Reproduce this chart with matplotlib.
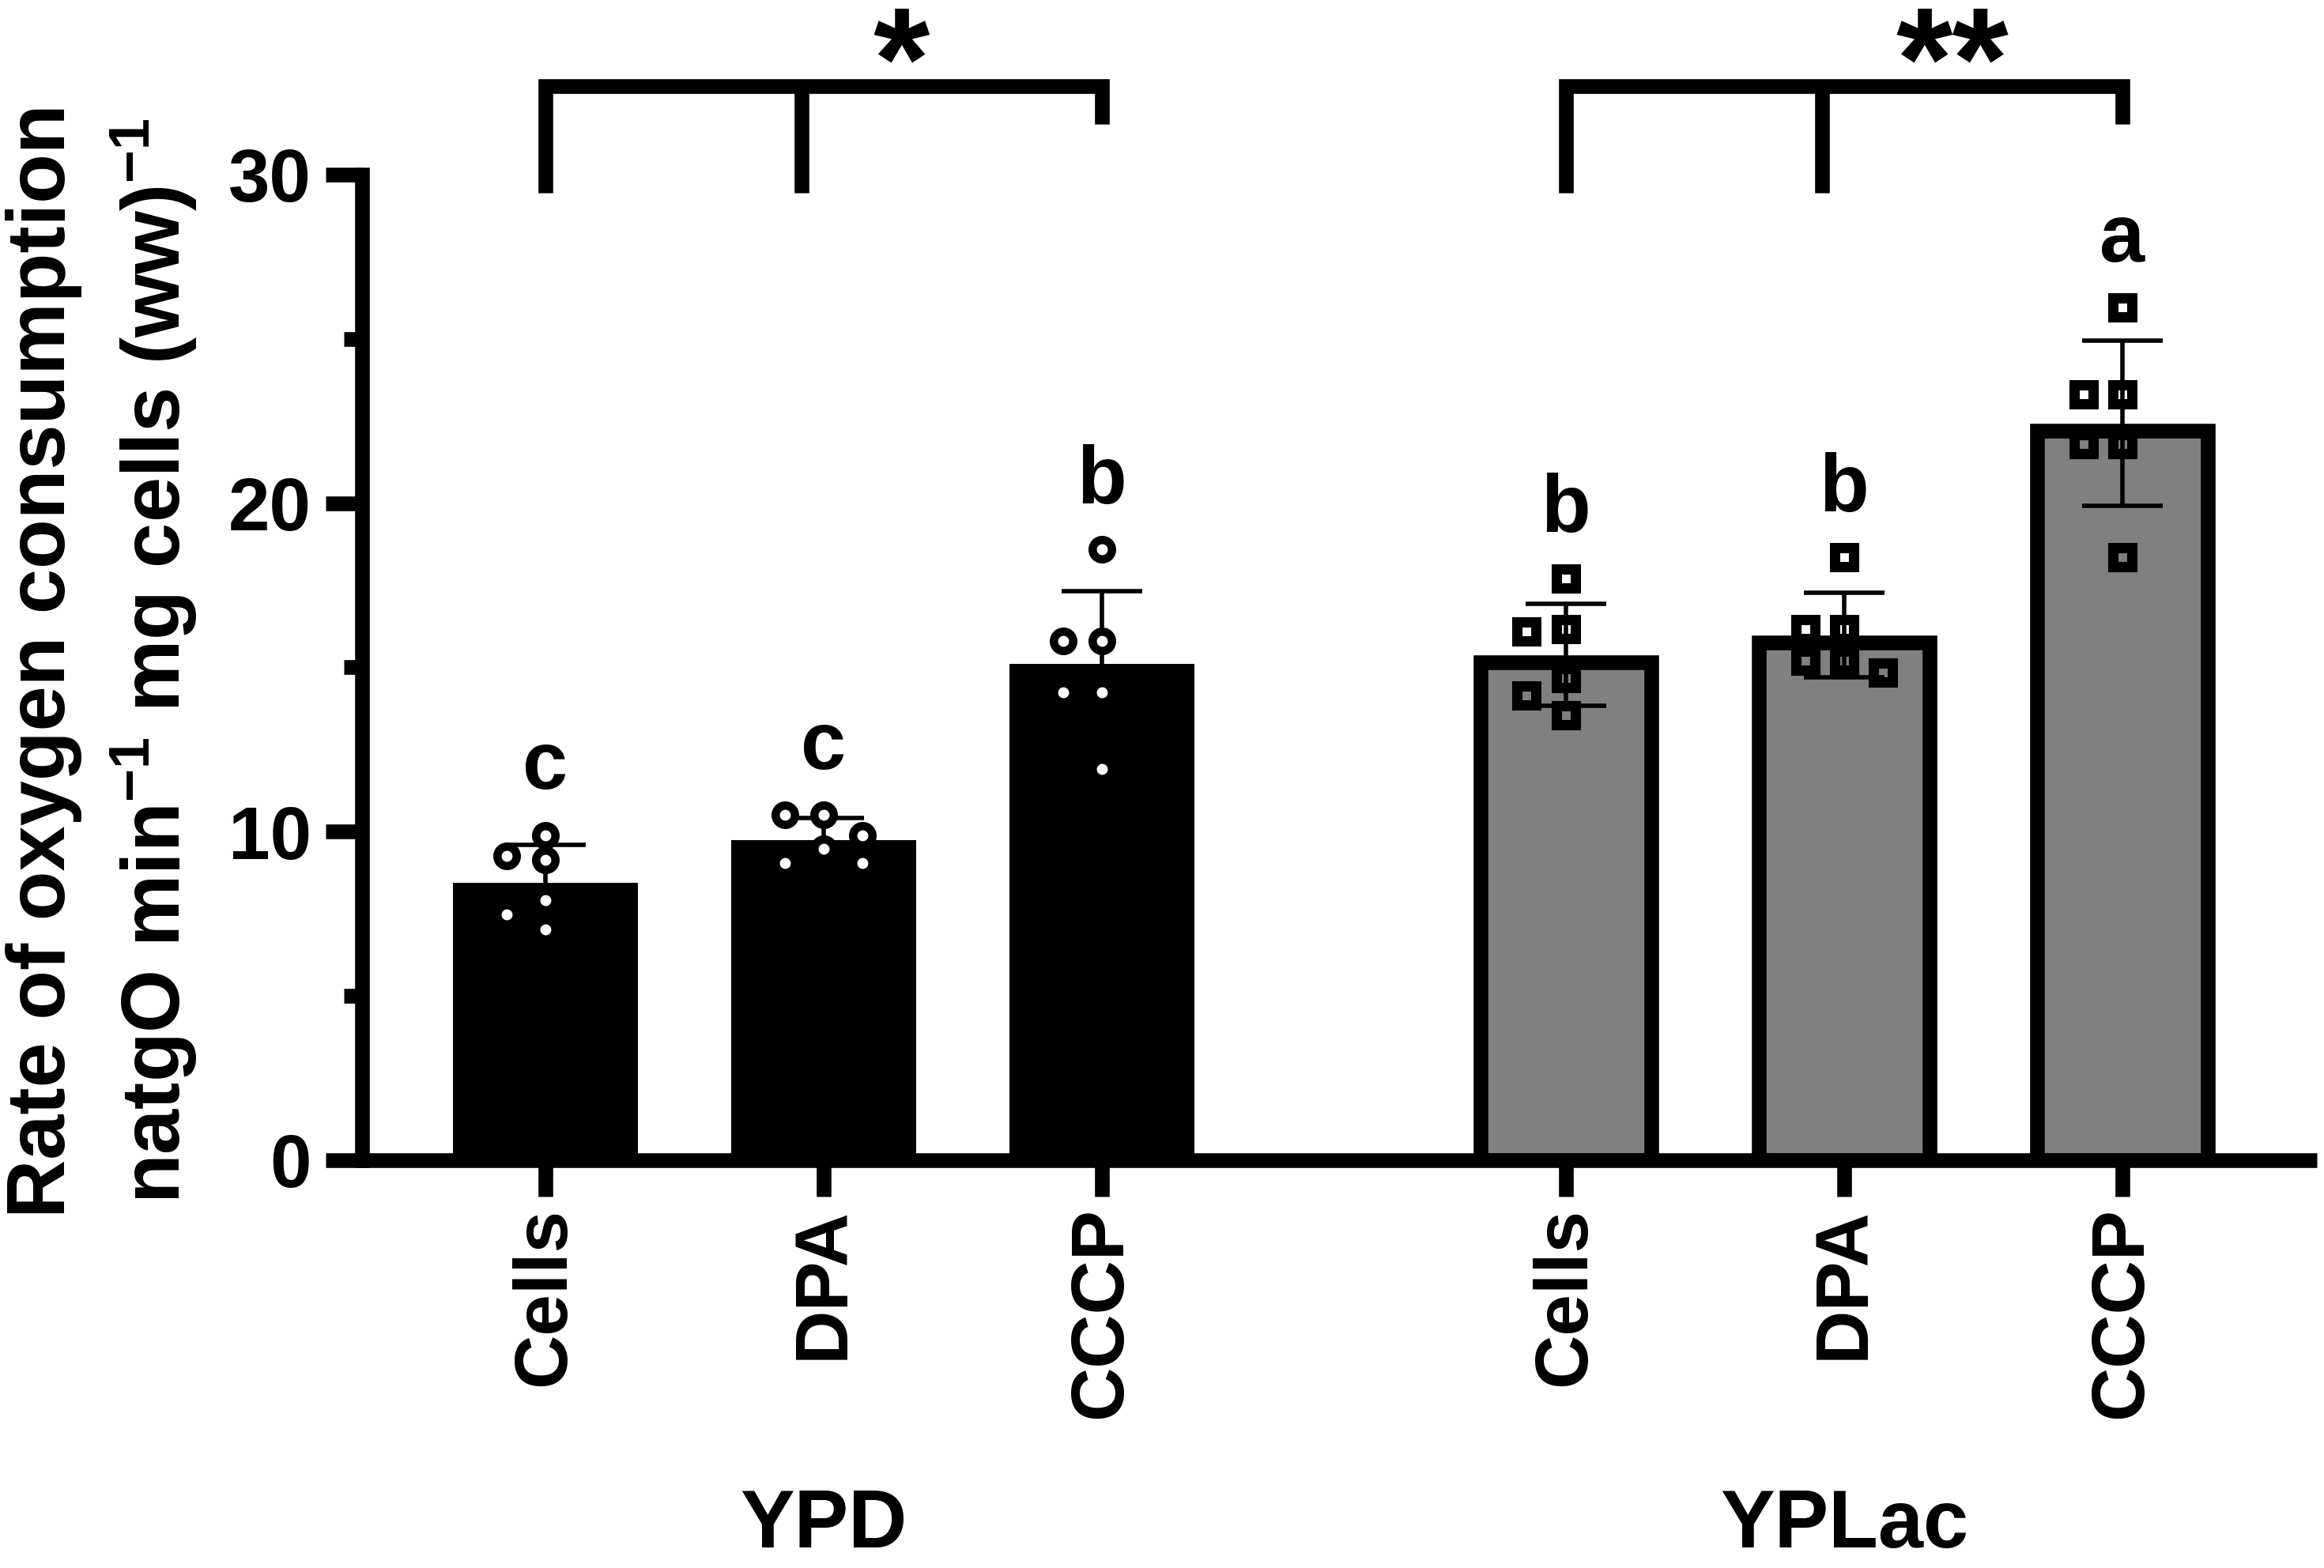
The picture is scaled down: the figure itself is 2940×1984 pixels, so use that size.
import numpy as np
import matplotlib
matplotlib.use("Agg")
import matplotlib.pyplot as plt
from matplotlib.ticker import FixedLocator
from matplotlib.transforms import blended_transform_factory

plt.rcParams['font.family'] = ['Liberation Sans', 'DejaVu Sans']
plt.rcParams['font.weight'] = 'bold'
plt.rcParams['mathtext.fontset'] = 'custom'
plt.rcParams['mathtext.rm'] = 'Liberation Sans:bold'
plt.rcParams['mathtext.it'] = 'Liberation Sans:bold'
plt.rcParams['mathtext.bf'] = 'Liberation Sans:bold'

# data (6 replicates per condition)
conditions = ['Cells', 'DPA', 'CCCP']
media = ['YPD', 'YPLac']
ypd_cells = [9.89, 9.25, 9.14, 7.91, 7.47, 7.01]
ypd_dpa = [10.50, 10.50, 9.89, 9.46, 9.04, 9.04]
ypd_cccp = [18.59, 15.80, 15.80, 14.24, 14.24, 11.91]
yplac_cells = [17.71, 16.16, 16.08, 14.67, 14.13, 13.54]
yplac_dpa = [18.35, 16.16, 16.16, 15.20, 15.20, 14.83]
yplac_cccp = [25.96, 23.32, 23.32, 21.80, 21.80, 18.35]
letters = ['c', 'c', 'b', 'b', 'b', 'a']
stars = ['*', '**']

groups = [[ypd_cells, ypd_dpa, ypd_cccp], [yplac_cells, yplac_dpa, yplac_cccp]]


def swarm(vals, step=0.14, thresh=0.72):
    # simple column swarm: centre first, then left, then right
    placed = []
    off = np.zeros(len(vals))
    for i in np.argsort(-np.asarray(vals), kind='stable'):
        v = vals[i]
        for c in (0, -1, 1, -2, 2):
            if all(abs(v - pv) >= thresh for pc, pv in placed if pc == c):
                break
        placed.append((c, v))
        off[i] = c * step
    return off


fig = plt.figure(figsize=(14.7, 9.92), dpi=200)
W, H = 2940, 1984
ax = fig.add_axes([458 / W, 1 - 1467.5 / H, (2931 - 458) / W, 1467.5 / H])
ax.set_xlim(0.341, 7.366)
ax.set_ylim(0, 1467.5 / 41.55)

lw = 6.7
bar_w = 0.667
ix = 9.5 / 352
iy = 9.5 / 41.55

xs_all = []
for g, grp in enumerate(groups):
    xs = np.arange(3) + 1 + g * (3 + 2 / 3)
    xs_all.extend(xs)
    means = np.array([np.mean(v) for v in grp])
    sds = np.array([np.std(v, ddof=1) for v in grp])
    if g == 0:
        ax.bar(xs, means, width=bar_w, color='black', edgecolor='none', zorder=2)
    else:
        ax.bar(xs, means - iy, width=bar_w - 2 * ix, color='#808080',
               edgecolor='black', linewidth=lw, zorder=2)
    ax.errorbar(xs, means, yerr=sds, fmt='none', ecolor='black', elinewidth=2.0,
                capsize=18.5, capthick=2.0, zorder=3)
    for k, vals in enumerate(grp):
        px = xs[k] + swarm(vals)
        if g == 0:
            ax.plot(px, vals, 'o', ms=8.8, mew=3.8, mfc='white', mec='black',
                    ls='none', zorder=4, clip_on=False)
        else:
            ax.plot(px, vals, 's', ms=8.3, mew=4.7, mfc='none', mec='black',
                    ls='none', zorder=4, clip_on=False)
        top = max(max(vals), means[k] + sds[k])
        ax.text(xs[k], top + 1.4, letters[g * 3 + k], fontsize=37,
                ha='center', va='baseline')

    # significance bracket
    y_top, y_low, y_r = 32.7, 29.45, 31.54
    ax.plot([xs[0], xs[0], xs[2], xs[2]], [y_low, y_top, y_top, y_r], color='black',
            lw=lw, solid_joinstyle='miter', solid_capstyle='butt', clip_on=False)
    ax.plot([xs[1] - 0.08, xs[1] - 0.08], [y_top, y_low], color='black', lw=lw,
            solid_capstyle='butt', clip_on=False)
    ax.text(xs[1] + (0.28 if g == 0 else 0.39), 32.0, stars[g], fontsize=66,
            ha='center', va='baseline', clip_on=False)

    trans = blended_transform_factory(ax.transData, fig.transFigure)
    fig.text(xs[1], 0.002, media[g], fontsize=37, ha='center', va='bottom',
             transform=trans)

# axes styling
for s in ['top', 'right']:
    ax.spines[s].set_visible(False)
ax.spines['left'].set_linewidth(lw)
ax.spines['bottom'].set_linewidth(lw)
ax.spines['left'].set_bounds(0, 30)
ax.spines['left'].set_capstyle('projecting')
ax.spines['bottom'].set_capstyle('butt')

ax.yaxis.set_major_locator(FixedLocator([0, 10, 20, 30]))
ax.yaxis.set_minor_locator(FixedLocator([5, 15, 25]))
ax.tick_params(axis='y', which='major', length=16.6, width=lw, labelsize=34, pad=6.5)
ax.tick_params(axis='y', which='minor', length=8.3, width=lw)
ax.set_xticks(xs_all)
ax.set_xticklabels(conditions * 2, rotation=90)
ax.tick_params(axis='x', which='major', length=16.6, width=lw, labelsize=34, pad=5)

ytrans = blended_transform_factory(fig.transFigure, ax.transData)
fig.text(82 / W, 15.2, 'Rate of oxygen consumption', fontsize=37, rotation=90,
         rotation_mode='anchor', ha='center', va='baseline', transform=ytrans)
fig.text(228 / W, 15.2, r'natgO min$^{-1}$ mg cells (ww)$^{-1}$', fontsize=37,
         rotation=90, rotation_mode='anchor', ha='center', va='baseline',
         transform=ytrans)

fig.savefig('out.png', dpi=200)
